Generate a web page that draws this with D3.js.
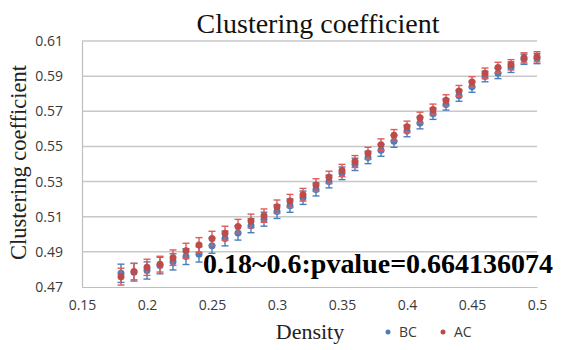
<!DOCTYPE html>
<html>
<head>
<meta charset="utf-8">
<script src="https://cdn.jsdelivr.net/npm/d3@7"></script>
<style>
  body { margin: 0; background: #fff; }
  svg { display: block; }
</style>
</head>
<body>
<div id="chart"></div>
<script>
// Density values (x)
const density = [0.18, 0.19, 0.20, 0.21, 0.22, 0.23, 0.24, 0.25, 0.26, 0.27, 0.28,
    0.29, 0.30, 0.31, 0.32, 0.33, 0.34, 0.35, 0.36, 0.37, 0.38, 0.39,
    0.40, 0.41, 0.42, 0.43, 0.44, 0.45, 0.46, 0.47, 0.48, 0.49, 0.50];

// Clustering coefficient, BC group
const bcValues = [0.4778, 0.4784, 0.4794, 0.4822, 0.4843, 0.4873, 0.4886, 0.4935, 0.4976, 0.5008, 0.5049,
    0.5086, 0.5129, 0.5163, 0.5208, 0.5255, 0.5300, 0.5347, 0.5398, 0.5437, 0.5478, 0.5529,
    0.5588, 0.5633, 0.5686, 0.5739, 0.5788, 0.5839, 0.5898, 0.5916, 0.5951, 0.5996, 0.6000];
const bcErrors = [0.0052, 0.0050, 0.0049, 0.0047, 0.0046, 0.0045, 0.0044, 0.0043, 0.0042, 0.0041, 0.0040,
    0.0040, 0.0039, 0.0038, 0.0038, 0.0037, 0.0036, 0.0036, 0.0035, 0.0035, 0.0034, 0.0034,
    0.0033, 0.0033, 0.0032, 0.0032, 0.0031, 0.0031, 0.0030, 0.0030, 0.0030, 0.0029, 0.0029];

// Clustering coefficient, AC group
const acValues = [0.4759, 0.4788, 0.4812, 0.4830, 0.4867, 0.4906, 0.4939, 0.4976, 0.5006, 0.5045, 0.5076,
    0.5106, 0.5157, 0.5190, 0.5225, 0.5280, 0.5324, 0.5363, 0.5414, 0.5461, 0.5510, 0.5563,
    0.5612, 0.5663, 0.5710, 0.5763, 0.5816, 0.5867, 0.5916, 0.5949, 0.5965, 0.6004, 0.6010];
const acErrors = [0.0048, 0.0047, 0.0046, 0.0045, 0.0044, 0.0043, 0.0042, 0.0041, 0.0040, 0.0040, 0.0039,
    0.0038, 0.0038, 0.0037, 0.0036, 0.0036, 0.0035, 0.0035, 0.0034, 0.0034, 0.0033, 0.0033,
    0.0032, 0.0032, 0.0031, 0.0031, 0.0031, 0.0030, 0.0030, 0.0030, 0.0029, 0.0029, 0.0029];

const xTicks = [0.15, 0.2, 0.25, 0.3, 0.35, 0.4, 0.45, 0.5];
const yTicks = [0.47, 0.49, 0.51, 0.53, 0.55, 0.57, 0.59, 0.61];

const titleText = 'Clustering coefficient';
const xTitle = 'Density';
const yTitle = 'Clustering coefficient';
const noteText = '0.18~0.6:pvalue=0.664136074';

const series = [
    { name: 'BC', values: bcValues, errors: bcErrors, color: '#4a7ebb', barColor: '#4a7ebb' },
    { name: 'AC', values: acValues, errors: acErrors, color: '#be4b48', barColor: '#e05a57' }
];

const width = 561, height = 350;
const margin = { top: 41, right: 24, bottom: 63, left: 82 };

const svg = d3.select('#chart')
    .append('svg')
    .attr('width', width)
    .attr('height', height);

const x = d3.scaleLinear()
    .domain([0.15, 0.5])
    .range([margin.left, width - margin.right]);

const y = d3.scaleLinear()
    .domain([0.47, 0.61])
    .range([height - margin.bottom, margin.top]);

// Gridlines
svg.append('g')
    .attr('class', 'grid')
    .selectAll('line')
    .data(yTicks.slice(1))
    .join('line')
    .attr('x1', x(0.15))
    .attr('x2', x(0.5))
    .attr('y1', d => y(d))
    .attr('y2', d => y(d))
    .attr('stroke', '#c8c8c8')
    .attr('stroke-width', 1.5);

// Axes
const xAxis = svg.append('g')
    .attr('transform', `translate(0,${y(0.47)})`)
    .call(d3.axisBottom(x).tickValues(xTicks).tickSize(0).tickPadding(13)
        .tickFormat(d3.format('')));

const yAxis = svg.append('g')
    .attr('transform', `translate(${x(0.15)},0)`)
    .call(d3.axisLeft(y).tickValues(yTicks).tickSize(0).tickPadding(19)
        .tickFormat(d3.format('.2f')));

[xAxis, yAxis].forEach(ax => {
    ax.select('.domain').attr('stroke', '#bfbfbf').attr('stroke-width', 1.2);
    ax.selectAll('text')
        .attr('fill', '#3a3a3a')
        .style('font-family', '"Open Sans", "Liberation Sans", sans-serif')
        .style('font-size', '14px');
});

// Series: error bars and markers
series.forEach(s => {
    const g = svg.append('g').attr('class', `series-${s.name}`);
    const pts = density.map((d, i) => ({ x: d, v: s.values[i], e: s.errors[i] }));

    g.selectAll('line.bar')
        .data(pts)
        .join('line')
        .attr('class', 'bar')
        .attr('x1', d => x(d.x))
        .attr('x2', d => x(d.x))
        .attr('y1', d => y(d.v - d.e))
        .attr('y2', d => y(d.v + d.e))
        .attr('stroke', s.barColor)
        .attr('stroke-width', 1.4);

    ['lo', 'hi'].forEach(k => {
        g.selectAll(`line.cap-${k}`)
            .data(pts)
            .join('line')
            .attr('class', `cap-${k}`)
            .attr('x1', d => x(d.x) - 3.5)
            .attr('x2', d => x(d.x) + 3.5)
            .attr('y1', d => y(k === 'lo' ? d.v - d.e : d.v + d.e))
            .attr('y2', d => y(k === 'lo' ? d.v - d.e : d.v + d.e))
            .attr('stroke', s.barColor)
            .attr('stroke-width', 1.4);
    });

    g.selectAll('circle')
        .data(pts)
        .join('circle')
        .attr('cx', d => x(d.x))
        .attr('cy', d => y(d.v))
        .attr('r', 3.5)
        .attr('fill', s.color);
});

// Title
svg.append('text')
    .attr('x', 318)
    .attr('y', 33)
    .attr('text-anchor', 'middle')
    .style('font-family', '"Liberation Serif", "Times New Roman", serif')
    .style('font-size', '28px')
    .attr('fill', '#111')
    .text(titleText);

// Axis titles
svg.append('text')
    .attr('transform', `translate(26,${162.5}) rotate(-90)`)
    .attr('text-anchor', 'middle')
    .style('font-family', '"Liberation Serif", "Times New Roman", serif')
    .style('font-size', '22.5px')
    .attr('fill', '#222')
    .text(yTitle);

svg.append('text')
    .attr('x', 310)
    .attr('y', 339)
    .attr('text-anchor', 'middle')
    .style('font-family', '"Liberation Serif", "Times New Roman", serif')
    .style('font-size', '22px')
    .attr('fill', '#222')
    .text(xTitle);

// Legend
const legend = svg.append('g').attr('class', 'legend');
const legendX = [388, 443];
series.forEach((s, i) => {
    legend.append('circle')
        .attr('cx', legendX[i])
        .attr('cy', 332)
        .attr('r', 2.5)
        .attr('fill', s.color);
    legend.append('text')
        .attr('x', legendX[i] + 11)
        .attr('y', 337)
        .style('font-family', '"Open Sans", "Liberation Sans", sans-serif')
        .style('font-size', '14px')
        .attr('fill', '#3a3a3a')
        .text(s.name);
});

// p-value note
svg.append('text')
    .attr('x', 203)
    .attr('y', 273)
    .attr('textLength', 350)
    .attr('lengthAdjust', 'spacingAndGlyphs')
    .style('font-family', '"Liberation Serif", "Times New Roman", serif')
    .style('font-size', '27px')
    .style('font-weight', 'bold')
    .attr('fill', '#000')
    .text(noteText);
</script>
</body>
</html>
